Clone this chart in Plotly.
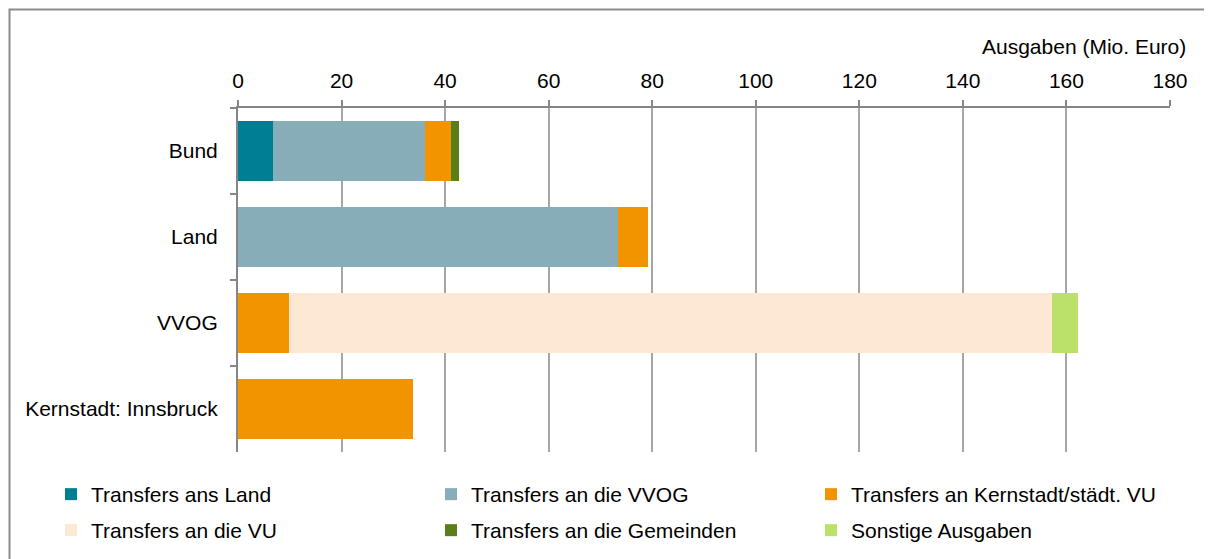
import plotly.graph_objects as go

# --- Data ---
CATEGORIES = ['Bund', 'Land', 'VVOG', 'Kernstadt: Innsbruck']
SERIES_NAMES = [
    'Transfers ans Land',
    'Transfers an die VVOG',
    'Transfers an Kernstadt/städt. VU',
    'Transfers an die VU',
    'Transfers an die Gemeinden',
    'Sonstige Ausgaben',
]
# values per category (Mio. Euro), same order as CATEGORIES
TRANSFERS_LAND = [6.7, 0, 0, 0]
TRANSFERS_VVOG = [29.5, 73.4, 0, 0]
TRANSFERS_KERNSTADT = [4.9, 5.7, 9.8, 33.8]
TRANSFERS_VU = [0, 0, 147.5, 0]
TRANSFERS_GEMEINDEN = [1.6, 0, 0, 0]
SONSTIGE = [0, 0, 4.9, 0]
X_TICKS = [0, 20, 40, 60, 80, 100, 120, 140, 160, 180]
AXIS_TITLE = 'Ausgaben (Mio. Euro)'

COLORS = ['#007E92', '#87ADB8', '#F29400', '#FDE9D3', '#5A7F1A', '#BBE16A']

# --- Layout geometry ---
# page body has an 8px margin, so figure pixel = screen pixel - 8
OFF = 8
W, H = 1212 - OFF, 559 - OFF
L, T = 238 - OFF, 108 - OFF
R = W - (1170 - OFF)
B = H - (452 - OFF)
PW, PH = W - L - R, H - T - B


def px_x(p):
    # screen pixel -> paper x
    return (p - OFF - L) / PW


def px_y(p):
    # screen pixel -> paper y
    return 1 + (T - (p - OFF)) / PH


FONT = dict(family='Liberation Sans, Arial, sans-serif', size=21, color='#000000')

fig = go.Figure()
stack = [TRANSFERS_LAND, TRANSFERS_VVOG, TRANSFERS_KERNSTADT,
         TRANSFERS_VU, TRANSFERS_GEMEINDEN, SONSTIGE]
for i, (name, vals, col) in enumerate(zip(SERIES_NAMES, stack, COLORS)):
    fig.add_trace(go.Bar(
        y=CATEGORIES, x=vals, name=name, orientation='h',
        marker=dict(color=col, line=dict(width=0)),
        legend='legend' if i < 3 else 'legend2',
    ))

# one legend per row so the row spacing can match
legend_common = dict(
    orientation='h',
    xref='paper', yref='paper',
    x=px_x(51),
    xanchor='left', yanchor='top',
    entrywidth=335, entrywidthmode='pixels',
    itemwidth=30,
    font=FONT,
    traceorder='normal',
    bgcolor='rgba(0,0,0,0)',
)

fig.update_layout(
    barmode='stack',
    bargap=0.31,
    width=W, height=H,
    margin=dict(l=L, r=R, t=T, b=B, autoexpand=False),
    paper_bgcolor='white', plot_bgcolor='white',
    font=FONT,
    showlegend=True,
    legend=dict(legend_common, y=px_y(474)),
    legend2=dict(legend_common, y=px_y(510)),
    xaxis=dict(
        side='top', range=[0, 180], tickvals=X_TICKS,
        showgrid=True, gridcolor='#A6A6A6', gridwidth=1.5,
        showline=True, linecolor='#868686', linewidth=2,
        ticks='outside', ticklen=6, tickcolor='#868686', tickwidth=1.5,
        ticklabelstandoff=4,
        zeroline=False, fixedrange=True,
    ),
    yaxis=dict(
        autorange='reversed', type='category',
        showline=True, linecolor='#868686', linewidth=2,
        ticks='outside', ticklen=6, tickcolor='#868686', tickwidth=1.5,
        tickson='boundaries', showgrid=False,
        ticklabelstandoff=14,
    ),
    annotations=[dict(
        text=AXIS_TITLE, xref='paper', yref='paper',
        x=px_x(1188), y=px_y(46), xanchor='right', yanchor='middle',
        showarrow=False, font=FONT,
    )],
    shapes=[dict(
        type='rect', xref='paper', yref='paper',
        x0=px_x(9.5), x1=px_x(1240), y0=px_y(9.5), y1=px_y(590),
        line=dict(color='#8C8C8C', width=2), fillcolor='rgba(0,0,0,0)',
        layer='below',
    )],
)

fig.write_html('out.html')
